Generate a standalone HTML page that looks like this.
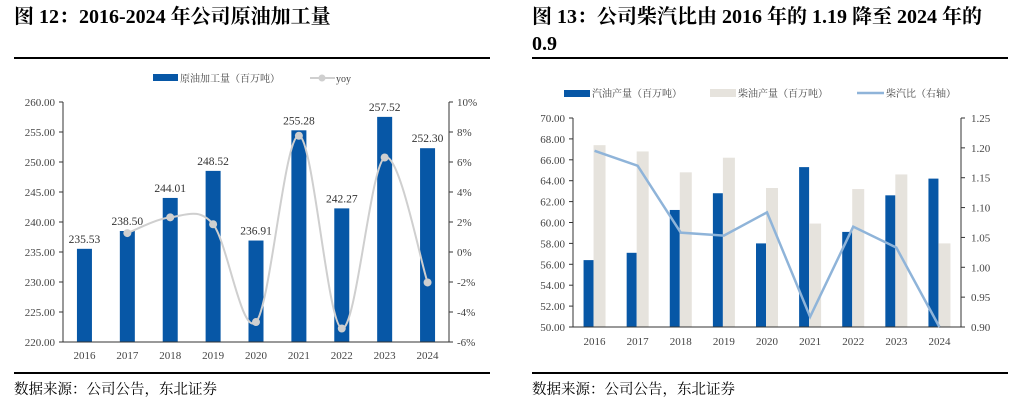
<!DOCTYPE html>
<html><head><meta charset="utf-8"><style>
body{margin:0;width:1015px;height:409px;background:#fff;overflow:hidden;font-family:"Liberation Serif","Noto Serif CJK SC",serif;}
.t{position:absolute;font-weight:bold;font-size:20px;color:#000;line-height:27px;}
.src{position:absolute;font-size:14.5px;color:#000;font-family:"Liberation Serif","Noto Serif CJK SC",serif;}
.hr{position:absolute;height:1.5px;background:#000;}
svg{position:absolute;left:0;top:0;}
</style></head><body>
<div class="t" style="left:14px;top:4px">图 12：2016-2024 年公司原油加工量</div>
<div class="t" style="left:532px;top:4px;width:478px">图 13：公司柴汽比由 2016 年的 1.19 降至 2024 年的 0.9</div>
<div class="hr" style="left:14px;top:57px;width:476px"></div>
<div class="hr" style="left:532px;top:57px;width:476px"></div>
<div class="hr" style="left:14px;top:372px;width:476px"></div>
<div class="hr" style="left:532px;top:372px;width:476px"></div>
<div class="src" style="left:14px;top:378px">数据来源：公司公告，东北证券</div>
<div class="src" style="left:532px;top:378px">数据来源：公司公告，东北证券</div>
<svg id="c" width="1015" height="409"></svg>
<script>
const years=["2016","2017","2018","2019","2020","2021","2022","2023","2024"];
const crude=[235.53,238.50,244.01,248.52,236.91,255.28,242.27,257.52,252.30];
const yoy=[null,1.26,2.31,1.85,-4.67,7.75,-5.10,6.30,-2.03];
const leftTicks=[220,225,230,235,240,245,250,255,260];
const rightTicks=[-6,-4,-2,0,2,4,6,8,10];
const gasoline=[56.4,57.1,61.2,62.8,58.0,65.3,59.1,62.6,64.2];
const diesel=[67.4,66.8,64.8,66.2,63.3,59.9,63.2,64.6,58.0];
const ratio=[1.195,1.17,1.058,1.053,1.092,0.917,1.068,1.033,0.90];
const gTicks=[50,52,54,56,58,60,62,64,66,68,70];
const rTicks=[0.90,0.95,1.00,1.05,1.10,1.15,1.20,1.25];
const svg=document.getElementById('c');const NS='http://www.w3.org/2000/svg';
function mk(tag,a,txt){const e=document.createElementNS(NS,tag);for(const k in a)e.setAttribute(k,a[k]);if(txt!=null)e.textContent=txt;svg.appendChild(e);return e;}
const F='"Liberation Serif","Noto Serif CJK SC",serif';
// LEFT
const L={x0:63,x1:449,y0:342,y1:102};
const lx=i=>L.x0+(i+0.5)*(L.x1-L.x0)/years.length;
const ly=v=>L.y0-(v-220)/(260-220)*(L.y0-L.y1);
const ry=v=>L.y0-(v+6)/16*(L.y0-L.y1);
leftTicks.forEach(t=>{let e=mk('text',{x:L.x0-8,y:ly(t)+4,'text-anchor':'end','font-size':11,fill:'#444','font-family':F},t.toFixed(2));mk('line',{x1:L.x0-4,x2:L.x0,y1:ly(t),y2:ly(t),stroke:'#333'});});
rightTicks.forEach(t=>{let e=mk('text',{x:L.x1+8,y:ry(t)+4,'font-size':11,fill:'#444','font-family':F},t+'%');mk('line',{x1:L.x1,x2:L.x1+4,y1:ry(t),y2:ry(t),stroke:'#333'});});
crude.forEach((v,i)=>{let b=mk('rect',{x:lx(i)-7.5,y:ly(v),width:15,height:L.y0-ly(v),fill:'#0757a6'});
let t=mk('text',{x:lx(i),y:ly(v)-6,'text-anchor':'middle','font-size':11.5,fill:'#333','font-family':F},v.toFixed(2));
let yl=mk('text',{x:lx(i),y:L.y0+17,'text-anchor':'middle','font-size':11,fill:'#444','font-family':F},years[i]);});
mk('line',{x1:L.x0,x2:L.x0,y1:L.y1,y2:L.y0,stroke:'#333'});mk('line',{x1:L.x1,x2:L.x1,y1:L.y1,y2:L.y0,stroke:'#333'});mk('line',{x1:L.x0,x2:L.x1,y1:L.y0,y2:L.y0,stroke:'#333'});
const pts=[];yoy.forEach((v,i)=>{if(v!=null)pts.push([lx(i),ry(v)]);});
let d='M'+pts[0][0]+','+pts[0][1];
for(let i=0;i<pts.length-1;i++){const p0=pts[Math.max(0,i-1)],p1=pts[i],p2=pts[i+1],p3=pts[Math.min(pts.length-1,i+2)];
d+=` C${p1[0]+(p2[0]-p0[0])/6},${p1[1]+(p2[1]-p0[1])/6} ${p2[0]-(p3[0]-p1[0])/6},${p2[1]-(p3[1]-p1[1])/6} ${p2[0]},${p2[1]}`;}
let yl=mk('path',{d:d,fill:'none',stroke:'#cfcfcf','stroke-width':2});
pts.forEach(p=>{let c=mk('circle',{cx:p[0],cy:p[1],r:4,fill:'#cfcfcf'});});
let lg=mk('rect',{x:153,y:74,width:25,height:7,fill:'#0757a6'});
let lt=mk('text',{x:180,y:82,'font-size':10,fill:'#444','font-family':F},'原油加工量（百万吨）');
mk('line',{x1:310,x2:335,y1:78,y2:78,stroke:'#cfcfcf','stroke-width':2});mk('circle',{cx:322,cy:78,r:3.5,fill:'#cfcfcf'});
let lt2=mk('text',{x:336,y:82,'font-size':10,fill:'#444','font-family':F},'yoy');
// RIGHT
const R={x0:573,x1:961,y0:327,y1:118};
const rx=i=>R.x0+(i+0.5)*(R.x1-R.x0)/years.length;
const gy=v=>R.y0-(v-50)/20*(R.y0-R.y1);
const qy=v=>R.y0-(v-0.9)/0.35*(R.y0-R.y1);
gTicks.forEach(t=>{let e=mk('text',{x:R.x0-8,y:gy(t)+4,'text-anchor':'end','font-size':11,fill:'#444','font-family':F},t.toFixed(2));mk('line',{x1:R.x0-4,x2:R.x0,y1:gy(t),y2:gy(t),stroke:'#333'});});
rTicks.forEach(t=>{let e=mk('text',{x:R.x1+10,y:qy(t)+4,'font-size':11,fill:'#444','font-family':F},t.toFixed(2));mk('line',{x1:R.x1,x2:R.x1+4,y1:qy(t),y2:qy(t),stroke:'#333'});});
years.forEach((y,i)=>{let g=mk('rect',{x:rx(i)-11,y:gy(gasoline[i]),width:10,height:R.y0-gy(gasoline[i]),fill:'#0757a6'});
let s=mk('rect',{x:rx(i)-1,y:gy(diesel[i]),width:12,height:R.y0-gy(diesel[i]),fill:'#e6e3dd'});
let t=mk('text',{x:rx(i),y:R.y0+18,'text-anchor':'middle','font-size':11,fill:'#444','font-family':F},y);});
mk('line',{x1:R.x0,x2:R.x0,y1:R.y1,y2:R.y0,stroke:'#333'});mk('line',{x1:R.x1,x2:R.x1,y1:R.y1,y2:R.y0,stroke:'#333'});mk('line',{x1:R.x0,x2:R.x1,y1:R.y0,y2:R.y0,stroke:'#333'});
let rl=mk('polyline',{points:ratio.map((v,i)=>rx(i)+','+qy(v)).join(' '),fill:'none',stroke:'#8fb4d9','stroke-width':2.5});
mk('rect',{x:564,y:90,width:26,height:7,fill:'#0757a6'});
let a=mk('text',{x:592,y:97,'font-size':10,fill:'#444','font-family':F},'汽油产量（百万吨）');
mk('rect',{x:710,y:89,width:26,height:8,fill:'#e6e3dd'});
let b=mk('text',{x:738,y:97,'font-size':10,fill:'#444','font-family':F},'柴油产量（百万吨）');
mk('line',{x1:857,x2:884,y1:93,y2:93,stroke:'#8fb4d9','stroke-width':2.5});
let c=mk('text',{x:886,y:97,'font-size':10,fill:'#444','font-family':F},'柴汽比（右轴）');
</script>
</body></html>
